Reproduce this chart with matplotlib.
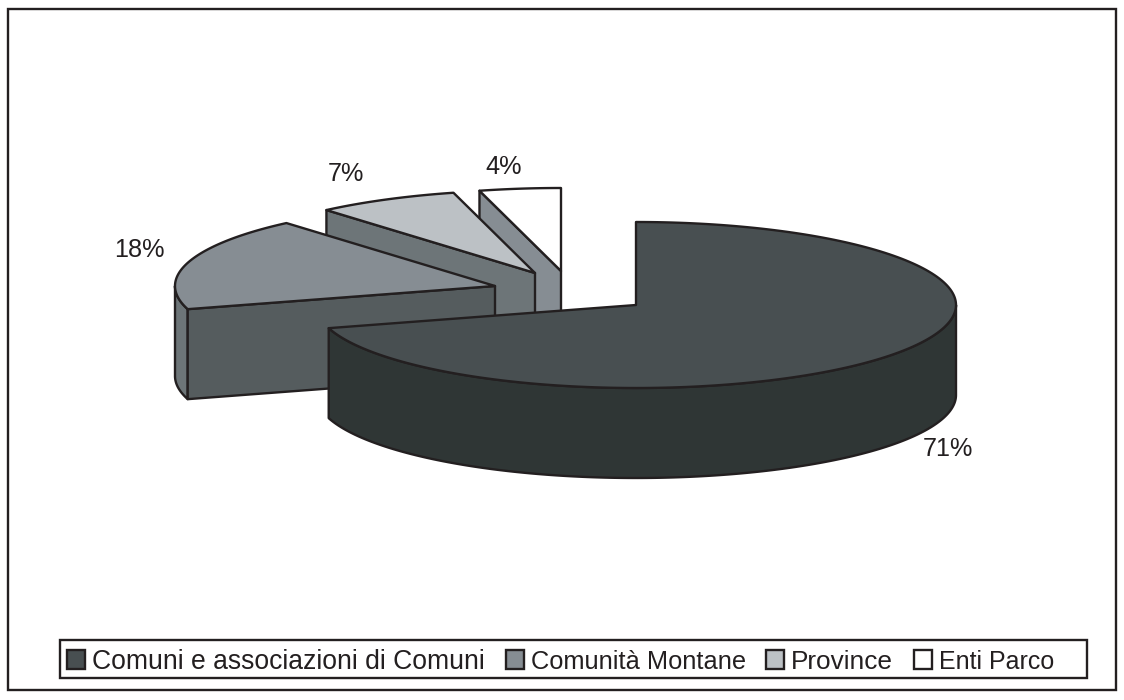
import numpy as np
import matplotlib
matplotlib.use("Agg")
import matplotlib.pyplot as plt
from matplotlib.patches import Polygon, Rectangle

categories = ["Comuni e associazioni di Comuni", "Comunità Montane", "Province", "Enti Parco"]
values = [70.5, 18.2, 7.2, 4.1]
labels = ["71%", "18%", "7%", "4%"]

top_colors = ["#484f51", "#868d93", "#bcc1c5", "#ffffff"]
cut_colors = ["#2f3635", "#555c5e", "#6d7578", "#868d93"]
wall_colors = ["#2f3635", "#6d7578", "#6d7578", "#868d93"]
apex = [(636, 305), (495, 286), (535, 273), (561, 271)]
label_pos = [(948, 449), (139, 250), (346, 174), (504, 167)]
legend_font_sizes = [19.1, 18.3, 18.9, 18.0]
RX, RY, DEPTH = 320, 83, 90
EDGE = "#231f20"
LW = 1.7

plt.rcParams["font.family"] = ["Liberation Sans", "DejaVu Sans"]
fig = plt.figure(figsize=(11.24, 7.0), dpi=100)
ax = fig.add_axes([0, 0, 1, 1])
ax.set_xlim(0, 1124)
ax.set_ylim(700, 0)
ax.axis("off")

ax.add_patch(Rectangle((8, 9), 1108, 681, fc="white", ec=EDGE, lw=LW, zorder=0))
ax.add_patch(Rectangle((60, 640), 1027, 38, fc="white", ec=EDGE, lw=LW, zorder=29))


def rim(c, a0, a1, n=200):
    t = np.radians(np.linspace(a0, a1, n))
    return np.column_stack([c[0] + RX * np.sin(t), c[1] - RY * np.cos(t)])


fractions = np.array(values) / sum(values) * 360
ends = np.cumsum(fractions)
starts = ends - fractions
z = 1
for i in range(len(values) - 1, -1, -1):
    c, a0, a1 = apex[i], starts[i], ends[i]
    down = np.array([0, DEPTH])
    # outer wall: only the front half of the rim (90..270 degrees) shows
    w0, w1 = max(a0, 90), min(a1, 270)
    if w1 > w0:
        r = rim(c, w0, w1)
        ax.add_patch(Polygon(np.vstack([r, (r + down)[::-1]]), closed=True,
                             fc=wall_colors[i], ec=EDGE, lw=LW, joinstyle="round", zorder=z))
    # cut face on the leading radial edge of the back-left slices
    if i > 0:
        e = rim(c, a0, a0, 1)[0]
        ce = np.array(c, float)
        ax.add_patch(Polygon([ce, e, e + down, ce + down], closed=True,
                             fc=cut_colors[i], ec=EDGE, lw=LW, joinstyle="round", zorder=z))
    r = rim(c, a0, a1)
    ax.add_patch(Polygon(np.vstack([[c], r]), closed=True, fc=top_colors[i], ec=EDGE,
                         lw=LW, joinstyle="round", zorder=z + 1))
    z += 2

for lab, (x, y) in zip(labels, label_pos):
    ax.text(x, y, lab, fontsize=18.2, color=EDGE, ha="center", va="center", zorder=20)

handles = [Rectangle((0, 0), 1, 1, fc=col, ec=EDGE, lw=LW) for col in top_colors]
leg = ax.legend(handles, categories, loc="lower left",
                bbox_to_anchor=(62 / 1124, 1 - 680 / 700), bbox_transform=ax.transAxes,
                ncol=4, fontsize=19.1, frameon=False, handlelength=0.68, handleheight=0.68,
                handletextpad=0.26, columnspacing=0.78, borderpad=0.2, borderaxespad=0,
                labelcolor=EDGE)
for txt, fs in zip(leg.get_texts(), legend_font_sizes):
    txt.set_fontsize(fs)
leg.set_zorder(30)

fig.savefig("out.png", dpi=100)
